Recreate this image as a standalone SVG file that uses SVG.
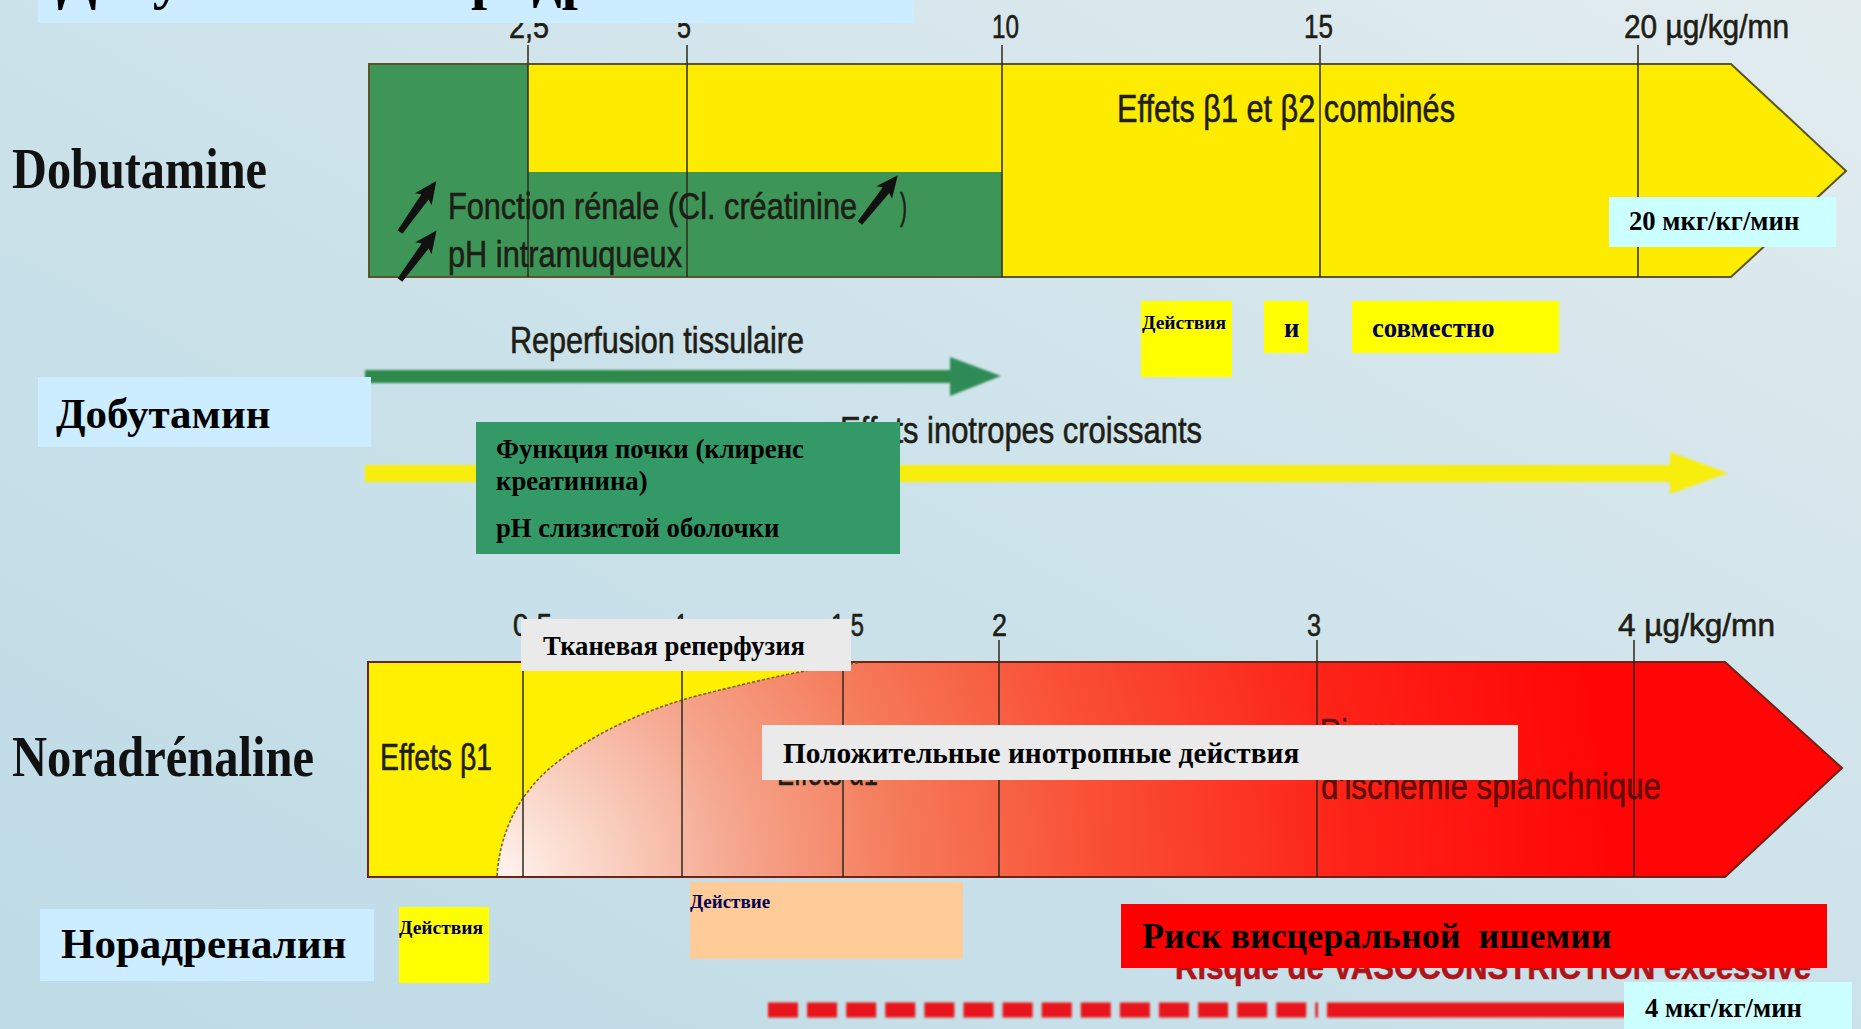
<svg xmlns="http://www.w3.org/2000/svg" width="1861" height="1029" viewBox="0 0 1861 1029">
<defs>
  <linearGradient id="bg" x1="0" y1="1" x2="1" y2="0">
    <stop offset="0" stop-color="#bedbe6"/>
    <stop offset="0.5" stop-color="#cce2ea"/>
    <stop offset="1" stop-color="#e2ecef"/>
  </linearGradient>
  <radialGradient id="redg" gradientUnits="userSpaceOnUse" cx="490" cy="885" r="1250">
    <stop offset="0" stop-color="#fff8f4"/>
    <stop offset="0.1" stop-color="#f9d0c0"/>
    <stop offset="0.2" stop-color="#f5a68e"/>
    <stop offset="0.33" stop-color="#f57b5a"/>
    <stop offset="0.48" stop-color="#f95136"/>
    <stop offset="0.68" stop-color="#fd2418"/>
    <stop offset="0.9" stop-color="#ff0505"/>
  </radialGradient>
  <path id="blkarrow" d="M0,-3 L44,-4.5 L41,-10.5 L64,0 L41,10.5 L44,4.5 L0,3 Z"/>
  <filter id="soft" x="-5%" y="-50%" width="110%" height="200%"><feGaussianBlur stdDeviation="1.2"/></filter>
</defs>
<style>
  .fr{font-family:"Liberation Sans",Arial,sans-serif;fill:#1e1e16;stroke:#1e1e16;stroke-width:0.6;}
  .ru{font-family:"Liberation Serif","Times New Roman",serif;font-weight:bold;fill:#000;}
  .nv{fill:#000055;}
  .big{font-family:"Liberation Serif","Times New Roman",serif;font-weight:bold;fill:#111;}
  .tick{stroke:#2c2a1c;stroke-width:1.5;}
  .lb{fill:#ccecff;}
  .cy{fill:#ccffff;}
  .ye{fill:#ffff00;}
  .gr{fill:#eaeaea;}
</style>

<rect x="0" y="0" width="1861" height="1029" fill="url(#bg)"/>

<!-- Dobutamine bar -->
<g id="dobutamine-bar">
  <path d="M369,64 L1731,64 L1846,171 L1731,277 L369,277 Z" fill="#fdec00" stroke="#5b5428" stroke-width="2"/>
  <path d="M370,65 L528,65 L528,172 L1002,172 L1002,276 L370,276 Z" fill="#3d9658"/>
  <g class="tick">
    <line x1="528" y1="45" x2="528" y2="277"/>
    <line x1="687" y1="45" x2="687" y2="277"/>
    <line x1="1002" y1="45" x2="1002" y2="277"/>
    <line x1="1320" y1="45" x2="1320" y2="277"/>
    <line x1="1638" y1="45" x2="1638" y2="277"/>
  </g>
  <g class="fr" font-size="33">
    <text x="509" y="38" textLength="40" lengthAdjust="spacingAndGlyphs">2,5</text>
    <text x="677" y="38" textLength="14" lengthAdjust="spacingAndGlyphs">5</text>
    <text x="992" y="38" textLength="27" lengthAdjust="spacingAndGlyphs">10</text>
    <text x="1304" y="38" textLength="29" lengthAdjust="spacingAndGlyphs">15</text>
    <text x="1624" y="38" textLength="165" lengthAdjust="spacingAndGlyphs">20 µg/kg/mn</text>
  </g>
  <text class="fr" x="1117" y="122" font-size="38" textLength="338" lengthAdjust="spacingAndGlyphs">Effets β1 et β2 combinés</text>
  <text class="fr" x="448" y="219" font-size="37" textLength="409" lengthAdjust="spacingAndGlyphs">Fonction rénale (Cl. créatinine</text>
  <text class="fr" x="900" y="219" font-size="37" textLength="7" lengthAdjust="spacingAndGlyphs">)</text>
  <text class="fr" x="448" y="267" font-size="37" textLength="234" lengthAdjust="spacingAndGlyphs">pH intramuqueux</text>
  <use href="#blkarrow" fill="#111" transform="translate(400,232) rotate(-54.6) scale(0.98)"/>
  <use href="#blkarrow" fill="#111" transform="translate(400,280) rotate(-53.5) scale(0.96)"/>
  <use href="#blkarrow" fill="#111" transform="translate(860,223) rotate(-51.6) scale(0.95)"/>
</g>

<text class="big" x="12" y="188" font-size="58" textLength="255" lengthAdjust="spacingAndGlyphs">Dobutamine</text>
<text class="big" x="12" y="776" font-size="58" textLength="302" lengthAdjust="spacingAndGlyphs">Noradrénaline</text>

<!-- Connectors: effect arrows and dashed line -->
<g id="connectors">
  <g filter="url(#soft)">
    <rect x="365" y="370" width="590" height="13" fill="#2f8a4c"/>
    <polygon points="950,357 1001,376 950,396" fill="#2e8b57"/>
    <rect x="365" y="465" width="1310" height="17" fill="#f7ee10"/>
    <polygon points="1670,452 1728,473 1670,494" fill="#f7ee10"/>
    <line x1="768" y1="1010" x2="1318" y2="1010" stroke="#e8161a" stroke-width="15" stroke-dasharray="30 9.1"/>
    <line x1="1327" y1="1010" x2="1700" y2="1010" stroke="#e8161a" stroke-width="15"/>
  </g>
</g>
<text class="fr" x="510" y="353" font-size="36" textLength="294" lengthAdjust="spacingAndGlyphs">Reperfusion tissulaire</text>
<text class="fr" x="840" y="443" font-size="37" textLength="362" lengthAdjust="spacingAndGlyphs">Effets inotropes croissants</text>

<!-- Noradrenaline bar -->
<g id="noradrenaline-bar">
  <path d="M368,662 L1725,662 L1842,768 L1725,877 L368,877 Z" fill="url(#redg)" stroke="#6a2418" stroke-width="2"/>
  <path d="M369,663 L858,663 C810,668 760,680 700,695 C650,708 600,730 560,760 C520,790 500,830 497,876 L369,876 Z" fill="#fff000"/>
  <path d="M858,663 C810,668 760,680 700,695 C650,708 600,730 560,760 C520,790 500,830 497,876" fill="none" stroke="#7a6020" stroke-width="1.6" stroke-dasharray="3 2"/>
  <g class="tick">
    <line x1="523" y1="640" x2="523" y2="877"/>
    <line x1="682" y1="640" x2="682" y2="877"/>
    <line x1="843" y1="640" x2="843" y2="877"/>
    <line x1="999" y1="640" x2="999" y2="877"/>
    <line x1="1317" y1="640" x2="1317" y2="877"/>
    <line x1="1634" y1="640" x2="1634" y2="877"/>
  </g>
  <g class="fr" font-size="32">
    <text x="513" y="636" textLength="39" lengthAdjust="spacingAndGlyphs">0,5</text>
    <text x="676" y="636" textLength="11" lengthAdjust="spacingAndGlyphs">1</text>
    <text x="831" y="636" textLength="33" lengthAdjust="spacingAndGlyphs">1,5</text>
    <text x="992" y="636" textLength="15" lengthAdjust="spacingAndGlyphs">2</text>
    <text x="1307" y="636" textLength="14" lengthAdjust="spacingAndGlyphs">3</text>
    <text x="1618" y="636" textLength="157" lengthAdjust="spacingAndGlyphs">4 µg/kg/mn</text>
  </g>
  <text class="fr" x="380" y="770" font-size="37" textLength="112" lengthAdjust="spacingAndGlyphs">Effets β1</text>
  <text class="fr" x="777" y="785" font-size="36" textLength="101" lengthAdjust="spacingAndGlyphs">Effets α1</text>
  <text class="fr" x="1320" y="745" font-size="37" style="fill:#3a0c08;stroke:#3a0c08" fill-opacity="0.8" stroke-opacity="0.8" textLength="92" lengthAdjust="spacingAndGlyphs">Risque</text>
  <text class="fr" x="1321" y="799" font-size="37" style="fill:#3a0c08;stroke:#3a0c08" fill-opacity="0.8" stroke-opacity="0.8" textLength="340" lengthAdjust="spacingAndGlyphs">d'ischémie splanchnique</text>
</g>
<text class="fr" x="1175" y="979" font-size="35" font-weight="bold" style="fill:#b01418;stroke:#b01418" textLength="636" lengthAdjust="spacingAndGlyphs">Risque de VASOCONSTRICTION excessive</text>

<!-- Overlay label boxes -->
<g id="title">
  <rect class="lb" x="38" y="0" width="876" height="23"/>
  <text class="ru" x="57" y="-2" font-size="58">Добутамин и норадреналин</text>
</g>
<g id="dobutamin-label">
  <rect class="lb" x="38" y="377" width="333" height="70"/>
  <text class="ru" x="56" y="428" font-size="43">Добутамин</text>
</g>
<g id="noradrenalin-label">
  <rect class="lb" x="40" y="909" width="334" height="72"/>
  <text class="ru" x="61" y="958" font-size="43">Норадреналин</text>
</g>
<g id="dose-20">
  <rect class="cy" x="1609" y="197" width="227" height="50"/>
  <text class="ru" x="1629" y="230" font-size="26.7">20 мкг/кг/мин</text>
</g>
<g id="dose-4">
  <rect class="cy" x="1624" y="982" width="228" height="47"/>
  <text class="ru" x="1645" y="1017" font-size="26.7">4 мкг/кг/мин</text>
</g>
<g id="deystviya-top">
  <rect class="ye" x="1141" y="301" width="91" height="76"/>
  <text class="ru nv" x="1142" y="329" font-size="19.5">Действия</text>
</g>
<g id="i-box">
  <rect class="ye" x="1264" y="301" width="44" height="52"/>
  <text class="ru nv" x="1284" y="337" font-size="26.7">и</text>
</g>
<g id="sovmestno">
  <rect class="ye" x="1352" y="301" width="207" height="52"/>
  <text class="ru nv" x="1372" y="337" font-size="26.7">совместно</text>
</g>
<g id="renal-box">
  <rect x="476" y="422" width="424" height="132" fill="#339966"/>
  <text class="ru" x="496" y="458" font-size="26.7">Функция почки (клиренс</text>
  <text class="ru" x="496" y="490" font-size="26.7">креатинина)</text>
  <text class="ru" x="496" y="537" font-size="26.7">pH слизистой оболочки</text>
</g>
<g id="reperfusion-box">
  <rect class="gr" x="521" y="619" width="330" height="52"/>
  <text class="ru" x="543" y="655" font-size="26.7">Тканевая реперфузия</text>
</g>
<g id="inotrope-box">
  <rect class="gr" x="762" y="725" width="756" height="55"/>
  <text class="ru" x="783" y="763" font-size="29.3">Положительные инотропные действия</text>
</g>
<g id="deystviya-bottom">
  <rect class="ye" x="399" y="907" width="90" height="76"/>
  <text class="ru nv" x="399" y="934" font-size="19.5">Действия</text>
</g>
<g id="deystvie-box">
  <rect x="690" y="882" width="273" height="77" fill="#ffcc99"/>
  <text class="ru nv" x="690" y="908" font-size="19">Действие</text>
</g>
<g id="risk-box">
  <rect x="1121" y="904" width="706" height="64" fill="#ff0000"/>
  <text class="ru" x="1142" y="948" font-size="36" style="white-space:pre">Риск висцеральной  ишемии</text>
</g>
</svg>
